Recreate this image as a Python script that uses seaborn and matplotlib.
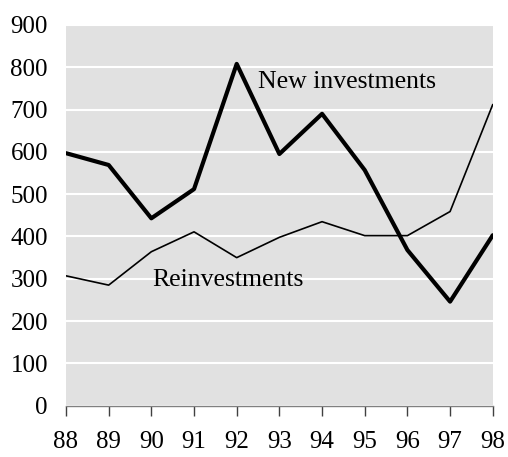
import pandas as pd
import numpy as np
import seaborn as sns
import matplotlib
matplotlib.use('Agg')
import matplotlib.pyplot as plt

years = [88, 89, 90, 91, 92, 93, 94, 95, 96, 97, 98]
new_investments = [597, 569, 443, 512, 808, 595, 690, 557, 368, 246, 403]
reinvestments = [307, 285, 364, 411, 350, 398, 435, 402, 402, 459, 712]

df = pd.DataFrame({'year': years, 'new': new_investments, 're': reinvestments})

sns.set_style('whitegrid', {'axes.facecolor': '#e1e1e1', 'grid.color': 'white',
                            'text.color': 'black', 'xtick.color': 'black',
                            'ytick.color': 'black'})
plt.rcParams['font.family'] = ['Liberation Serif', 'DejaVu Serif']

fig = plt.figure(figsize=(5.08, 4.57), dpi=100)
ax = fig.add_axes([0.1299, 0.1123, 0.8401, 0.833])

sns.lineplot(data=df, x='year', y='new', ax=ax, color='black', linewidth=3.0)
sns.lineplot(data=df, x='year', y='re', ax=ax, color='black', linewidth=1.2)

ax.set_xlim(88, 98)
ax.set_ylim(0, 900)
ax.set_xticks(years)
ax.set_xticklabels([str(y) for y in years])
ax.set_yticks(range(0, 1000, 100))
ax.grid(True, axis='y', color='white', linewidth=1.5)
ax.grid(False, axis='x')
ax.set_xlabel('')
ax.set_ylabel('')

for s in ['top', 'right', 'left']:
    ax.spines[s].set_visible(False)
ax.spines['bottom'].set_color('#808080')
ax.spines['bottom'].set_linewidth(1.0)

ax.tick_params(axis='x', direction='out', length=7, width=1, color='#404040',
               labelcolor='black', pad=11, labelsize=18, bottom=True)
ax.tick_params(axis='y', length=0, pad=13, labelsize=18, labelcolor='black')

ax.text(92.5, 765, 'New investments', fontsize=18.5, va='center', ha='left', color='black')
ax.text(90.02, 297, 'Reinvestments', fontsize=18.5, va='center', ha='left', color='black')

fig.savefig('out.png', dpi=100)
